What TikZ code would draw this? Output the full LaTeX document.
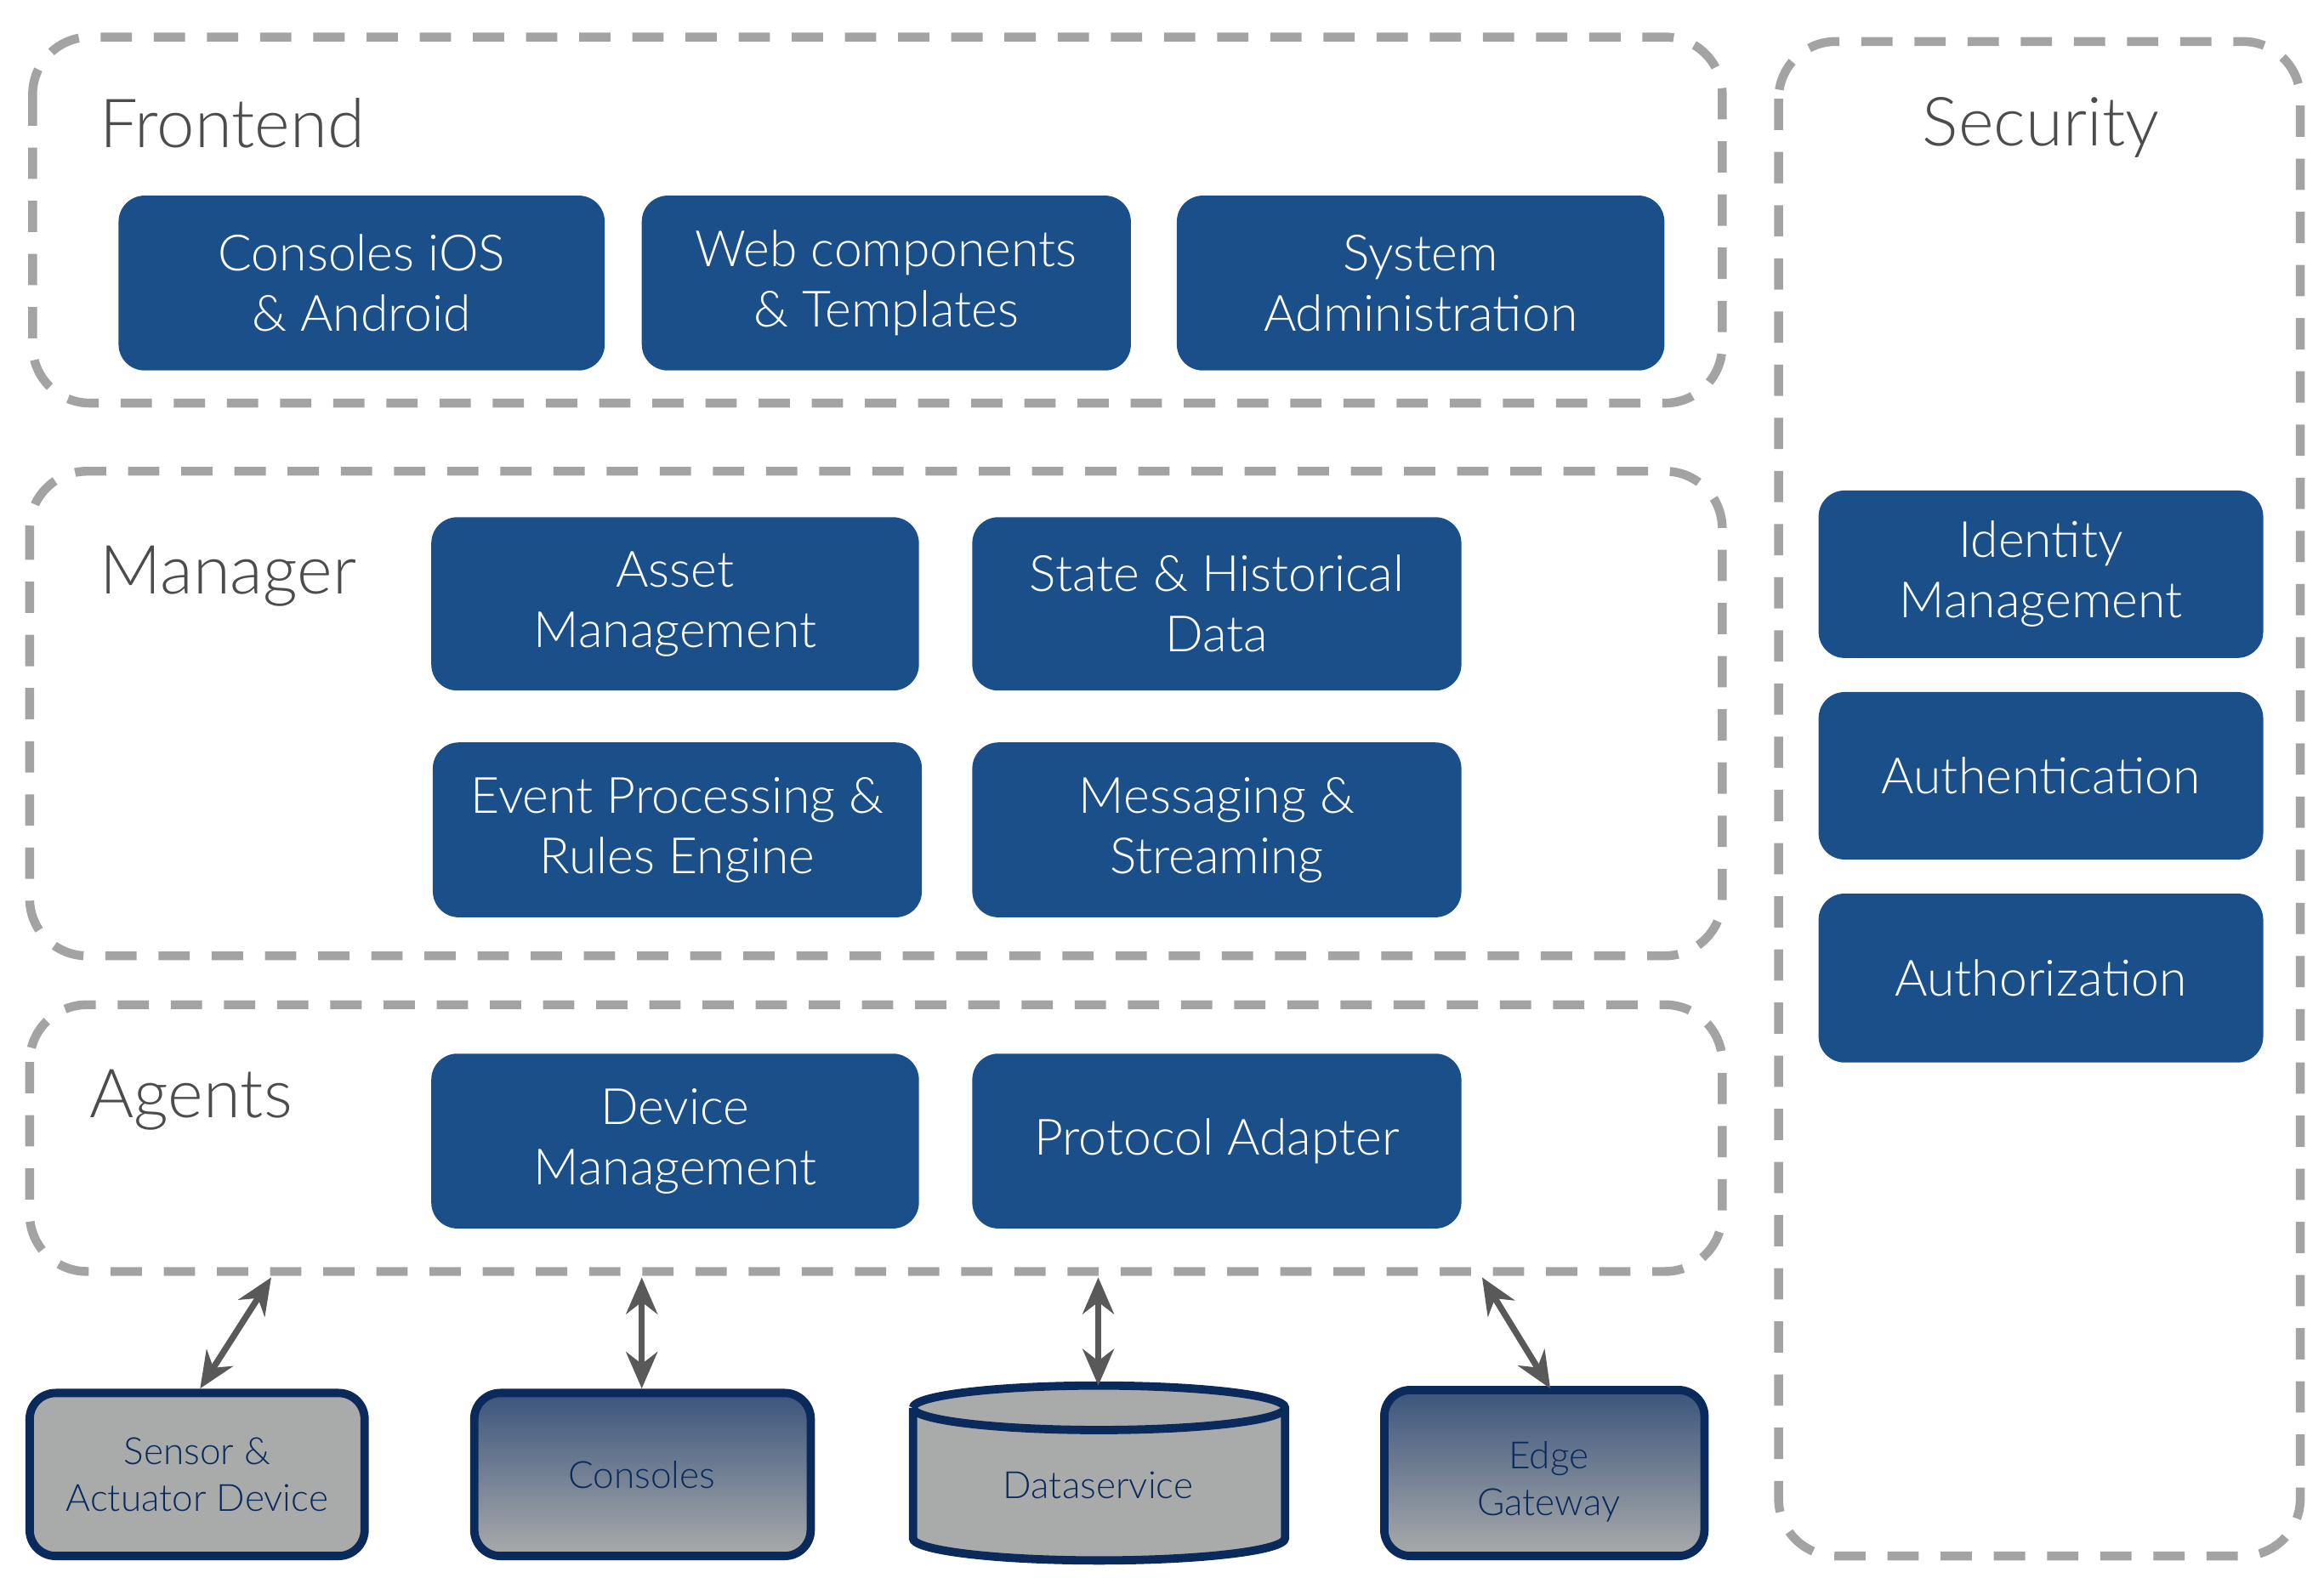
\documentclass[tikz,border=0pt]{standalone}
\usepackage{fontspec}
\setmainfont{Lato Light}
\usetikzlibrary{shapes.geometric,arrows.meta}
\definecolor{bb}{HTML}{1B4F8A}
\definecolor{nv}{HTML}{0B2A5C}
\definecolor{gr}{HTML}{A9ABAB}
\definecolor{dg}{HTML}{A3A3A3}
\begin{document}
\begin{tikzpicture}[x=0.01cm,y=-0.01cm,
 grp/.style={draw=dg,line width=1.7pt,dash pattern=on 6pt off 4.2pt,rounded corners=11pt},
 blue/.style={fill=bb,rounded corners=5pt,text=white,align=center,font=\fontsize{9.6}{11.6}\selectfont},
 ttl/.style={anchor=west,text=black!70,font=\fontsize{13}{16}\selectfont},
 dev/.style={draw=nv,line width=1.6pt,rounded corners=5pt,align=center,text=nv,font=\fontsize{7.2}{9}\selectfont},
 arr/.style={draw=black!65,line width=1.2pt,{Stealth[length=7pt,width=6pt]}-{Stealth[length=7pt,width=6pt]}}]
\useasboundingbox (0,0) rectangle (1568,1076);
\draw[grp] (22,25) rectangle (1162,272);
\draw[grp] (1200,28) rectangle (1552,1050);
\draw[grp] (20,318) rectangle (1162,645);
\draw[grp] (20,678) rectangle (1162,858);
\node[ttl] (tf) at (55,83) {Frontend};
\node[ttl,anchor=center] (ts) at (1377,86) {Security};
\node[ttl] (tm) at (55,389) {Manager};
\node[ttl] (ta) at (48,742) {Agents};
\newcommand{\bx}[6]{\path[blue] (#2,#3) rectangle (#4,#5); \node[blue,fill=none] (#1) at ({(#2+#4)/2},{(#3+#5)/2}) {#6};}
\bx{c1}{80}{132}{408}{250}{Consoles iOS\\\& Android}
\bx{c2}{433}{132}{763}{250}{Web components\\\& Templates}
\bx{c3}{794}{132}{1123}{250}{System\\Administration}
\bx{m1}{291}{349}{620}{466}{Asset\\Management}
\bx{m2}{656}{349}{986}{466}{State \& Historical\\Data}
\bx{m3}{292}{501}{622}{619}{Event Processing \&\\Rules Engine}
\bx{m4}{656}{501}{986}{619}{Messaging \&\\Streaming}
\bx{a1}{291}{711}{620}{829}{Device\\Management}
\bx{a2}{656}{711}{986}{829}{Protocol Adapter}
\bx{s1}{1227}{331}{1527}{444}{Identity\\Management}
\bx{s2}{1227}{467}{1527}{580}{Authentication}
\bx{s3}{1227}{603}{1527}{717}{Authorization}
\draw[dev,fill=gr] (20,940) rectangle (246,1050);
\node[align=center,text=nv,font=\fontsize{7.2}{9}\selectfont] (d1) at (133,995) {Sensor \&\\Actuator Device};
\draw[dev,top color=nv!80!white,bottom color=gr] (320,940) rectangle (547,1050);
\node[text=nv,font=\fontsize{7.2}{9}\selectfont] (d2) at (433,995) {Consoles};
\draw[dev,top color=nv!80!white,bottom color=gr] (934,938) rectangle (1150,1050);
\node[align=center,text=nv,font=\fontsize{7.2}{9}\selectfont] (d4) at (1045,1000) {Edge\\Gateway};
\draw[draw=nv,line width=1.6pt,fill=gr] (616,950) -- (616,1038) arc[start angle=180,end angle=360,x radius=125.5,y radius=-15] -- (867,950) arc[start angle=0,end angle=180,x radius=125.5,y radius=-15];
\draw[draw=nv,line width=1.6pt] (616,950) arc[start angle=180,end angle=360,x radius=125.5,y radius=-15];
\node[text=nv,font=\fontsize{7.2}{9}\selectfont] (d3) at (741,1002) {Dataservice};
\coordinate (p1) at (183,862); \coordinate (q1) at (135,937);
\coordinate (p2) at (433,862); \coordinate (q2) at (433,937);
\coordinate (p3) at (741,862); \coordinate (q3) at (741,935);
\coordinate (p4) at (1000,862); \coordinate (q4) at (1046,937);
\draw[arr] (p1) -- (q1); \draw[arr] (p2) -- (q2); \draw[arr] (p3) -- (q3); \draw[arr] (p4) -- (q4);
\end{tikzpicture}
\end{document}
